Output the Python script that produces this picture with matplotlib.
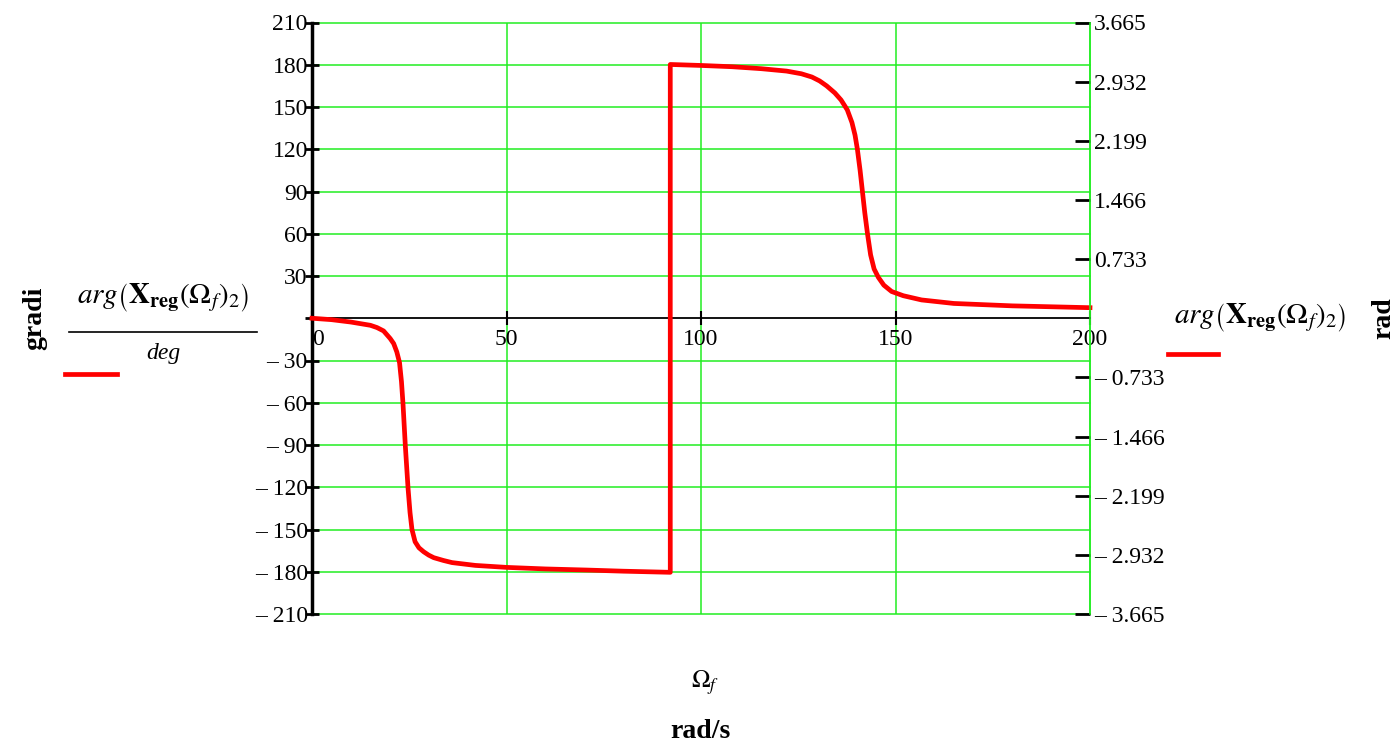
import numpy as np
import matplotlib
matplotlib.use('Agg')
import matplotlib.pyplot as plt
from matplotlib.lines import Line2D

plt.rcParams['font.family'] = 'Liberation Serif'
plt.rcParams['mathtext.fontset'] = 'stix'

# ---- data (Omega_f in rad/s, phase in degrees) ----
omega = [0, 5, 10, 15, 16.7, 18.4, 20.1, 21.0, 21.8, 22.5, 23.0, 23.4, 24.0, 24.7,
         25.2, 25.7, 26.5, 27.5, 28.7, 30.0, 31.3, 33.8, 36, 42, 50, 60, 70.8, 80, 92.1,
         92.1, 100, 108, 115.5, 122, 125.8, 128.5, 130.5, 132.3, 134.4, 136.0, 137.6,
         138.8, 139.6, 140.2, 140.9, 141.5, 142.1, 142.8, 143.6, 144.5, 145.6, 147,
         149, 152, 156.7, 165, 180, 200]
phase_deg = [0, -1.0, -2.7, -5, -6.6, -9, -14.4, -18, -23.9, -31.5, -45, -61, -91, -121,
             -138, -150, -158.7, -163, -165.8, -168.2, -170, -172, -173.5, -175.5, -176.9,
             -178, -178.8, -179.6, -180.4,
             180.2, 179.5, 178.6, 177.2, 175.5, 173.6, 171.3, 168.5, 165, 160, 155,
             148, 139, 130, 120, 105, 90, 75, 60, 45, 35, 29, 23.5,
             19, 16, 13, 10.5, 8.8, 7.5]

left_ticks = list(range(-210, 211, 30))
right_ticks = [-3.665, -2.932, -2.199, -1.466, -0.733, 0.733, 1.466, 2.199, 2.932, 3.665]
x_ticks = [0, 50, 100, 150, 200]

W, H = 1398, 747
def px(x, y):
    return (x / W, 1 - y / H)

def lab(v, fmt):
    s = fmt.format(abs(v))
    return ('\u2013 ' + s) if v < 0 else s

fig = plt.figure(figsize=(W / 100, H / 100), dpi=100)
ax = fig.add_axes([312 / W, 1 - 614 / H, (1090 - 312) / W, (614 - 22.5) / H])

green = '#22ee22'
ax.set_xlim(0, 200)
ax.set_ylim(-210, 210)

# grid
for yv in left_ticks:
    if yv != 0:
        ax.axhline(yv, color=green, lw=1.1, zorder=0, clip_on=False)
for xv in [50, 100, 150]:
    ax.axvline(xv, color=green, lw=1.1, zorder=0)

ax.plot(omega, phase_deg, color='red', lw=3.4, zorder=3, clip_on=False)

# spines
ax.spines['top'].set_visible(False)
ax.spines['right'].set_color(green)
ax.spines['right'].set_linewidth(1.1)
ax.spines['left'].set_linewidth(2.5)
ax.spines['bottom'].set_position(('data', 0))
ax.spines['bottom'].set_linewidth(1.3)

ax.set_yticks(left_ticks)
ax.set_yticklabels(['' if v == 0 else lab(v, '{:d}') for v in left_ticks])
ax.tick_params(axis='y', direction='inout', length=10, width=2, pad=-2, labelsize=17)

ax.set_xticks(x_ticks)
ax.set_xticklabels([str(v) for v in x_ticks])
ax.tick_params(axis='x', direction='inout', length=10, width=1.5, pad=3, labelsize=17)
ax.get_xticklabels()[0].set_horizontalalignment('left')

ax2 = ax.twinx()
ax2.set_ylim(-3.665, 3.665)
for s in ['top', 'left', 'bottom']:
    ax2.spines[s].set_visible(False)
ax2.spines['right'].set_color(green)
ax2.spines['right'].set_linewidth(1.1)
ax2.set_yticks(right_ticks)
ax2.set_yticklabels([lab(v, '{:.3f}') for v in right_ticks])
ax2.tick_params(axis='y', direction='in', length=11, width=2, pad=3, labelsize=17,
                color='black')

# ---- labels ----
expr = r'$\mathit{arg}\left(\mathbf{X}_{\mathbf{reg}}\left(\mathit{\Omega}_f\right)_2\right)$'

fig.text(*px(35, 318), 'gradi', rotation=90, fontsize=20, fontweight='bold',
         ha='center', va='center')
fig.text(*px(163, 298), expr, fontsize=21, ha='center', va='center')
fig.add_artist(Line2D([69 / W, 257 / W], [1 - 332 / H] * 2, color='black', lw=1.2))
fig.text(*px(163, 353), 'deg', fontsize=17, style='italic', ha='center', va='center')
fig.add_artist(Line2D([65 / W, 117 / W], [1 - 374 / H] * 2, color='red', lw=3.4))

fig.text(*px(1260, 318), expr, fontsize=21, ha='center', va='center')
fig.add_artist(Line2D([1168 / W, 1218 / W], [1 - 354 / H] * 2, color='red', lw=3.4))
fig.text(*px(1384, 318), 'rad', rotation=90, fontsize=20, fontweight='bold',
         ha='center', va='center')

fig.text(*px(705, 683), r'$\mathit{\Omega}_f$', fontsize=18, ha='center', va='center')
fig.text(*px(700, 731), 'rad/s', fontsize=20, fontweight='bold', ha='center', va='center')

fig.savefig('out.png', dpi=100)
